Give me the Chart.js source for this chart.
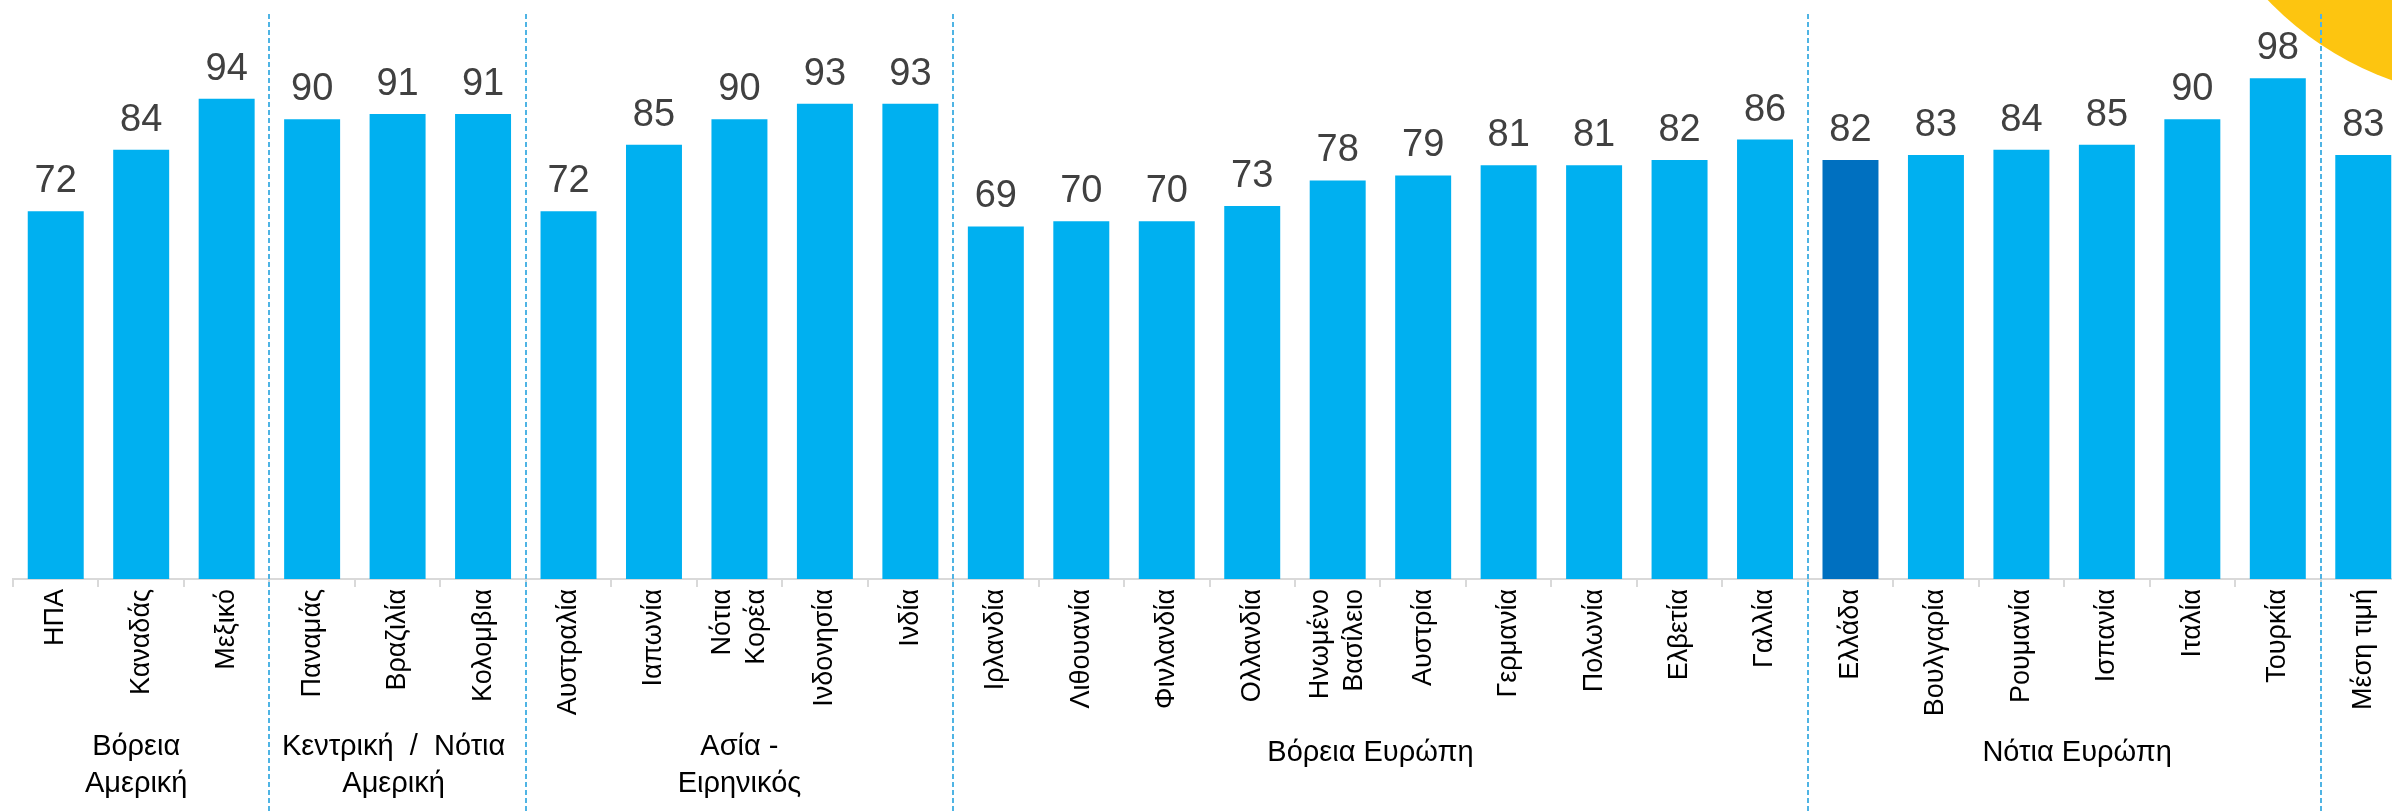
<!DOCTYPE html>
<html>
<head>
<meta charset="utf-8">
<script src="https://cdn.jsdelivr.net/npm/chart.js@4"></script>
<style>
  html, body { margin: 0; padding: 0; background: #fff; overflow: hidden; }
  #wrap { width: 2420px; height: 811px; }
</style>
</head>
<body>
<div id="wrap"><canvas id="chart" width="2420" height="811"></canvas></div>
<script>
// data
const countries = [
  'ΗΠΑ', 'Καναδάς', 'Μεξικό',
  'Παναμάς', 'Βραζιλία', 'Κολομβια',
  'Αυστραλία', 'Ιαπωνία', ['Νότια', 'Κορέα'], 'Ινδονησία', 'Ινδία',
  'Ιρλανδία', 'Λιθουανία', 'Φινλανδία', 'Ολλανδία', ['Ηνωμένο', 'Βασίλειο'],
  'Αυστρία', 'Γερμανία', 'Πολωνία', 'Ελβετία', 'Γαλλία',
  'Ελλάδα', 'Βουλγαρία', 'Ρουμανία', 'Ισπανία', 'Ιταλία', 'Τουρκία',
  'Μέση τιμή'
];
const scores = [
  72, 84, 94,
  90, 91, 91,
  72, 85, 90, 93, 93,
  69, 70, 70, 73, 78, 79, 81, 81, 82, 86,
  82, 83, 84, 85, 90, 98,
  83
];
const groupNames = [
  ['Βόρεια', 'Αμερική'],
  ['Κεντρική  /  Νότια', 'Αμερική'],
  ['Ασία -', 'Ειρηνικός'],
  ['Βόρεια Ευρώπη'],
  ['Νότια Ευρώπη'],
  []
];
const groupSizes = [3, 3, 5, 10, 6, 1];
const highlighted = 'Ελλάδα';

const FONT = "'Liberation Sans', Arial, sans-serif";
const BLUE = '#00B0F0';
const DARK_BLUE = '#0070C0';
// small horizontal nudges of the group titles, as placed on the slide
const titleNudge = [-5, -4, 0, -10, 13, 0];

const barColors = countries.map(c => c === highlighted ? DARK_BLUE : BLUE);

// yellow disc in the top right corner, behind everything
const decoPlugin = {
  id: 'deco',
  beforeDraw(chart) {
    const ctx = chart.ctx;
    ctx.save();
    ctx.fillStyle = '#FDC510';
    ctx.beginPath();
    ctx.arc(2500, -223, 322, 0, Math.PI * 2);
    ctx.fill();
    ctx.restore();
  }
};

const valueLabels = {
  id: 'valueLabels',
  afterDatasetsDraw(chart) {
    const ctx = chart.ctx;
    const meta = chart.getDatasetMeta(0);
    ctx.save();
    ctx.font = '38px ' + FONT;
    ctx.fillStyle = '#404040';
    ctx.textAlign = 'center';
    ctx.textBaseline = 'alphabetic';
    meta.data.forEach((bar, i) => {
      ctx.fillText(scores[i], bar.x, bar.y - 19);
    });
    ctx.restore();
  }
};

// rotated country names, multi-line ones centred as a block on the tick
const tickLabels = {
  id: 'tickLabels',
  afterDraw(chart) {
    const ctx = chart.ctx;
    const x = chart.scales.x;
    const lh = 34;
    const top = chart.chartArea.bottom + 10;
    ctx.save();
    ctx.font = '27px ' + FONT;
    ctx.fillStyle = '#000';
    ctx.textAlign = 'right';
    ctx.textBaseline = 'middle';
    countries.forEach((c, i) => {
      const lines = Array.isArray(c) ? c : [c];
      const px = x.getPixelForValue(i);
      lines.forEach((t, j) => {
        const cx = px - (lines.length * lh) / 2 + lh * (j + 0.5);
        ctx.save();
        ctx.translate(cx, top);
        ctx.rotate(-Math.PI / 2);
        ctx.fillText(t, 0, 0);
        ctx.restore();
      });
    });
    ctx.restore();
  }
};

const groupsPlugin = {
  id: 'groups',
  afterDraw(chart) {
    const ctx = chart.ctx;
    const x = chart.scales.x;
    ctx.save();
    ctx.strokeStyle = '#4FB4E4';
    ctx.lineWidth = 2;
    ctx.setLineDash([5, 3]);
    let start = 0;
    groupSizes.forEach((n, g) => {
      const end = start + n;
      // dashed separator after the group
      if (end < countries.length) {
        const px = Math.round((x.getPixelForValue(end - 1) + x.getPixelForValue(end)) / 2);
        ctx.beginPath();
        ctx.moveTo(px, 14);
        ctx.lineTo(px, chart.height);
        ctx.stroke();
      }
      // group title
      const lines = groupNames[g];
      const cx = (x.getPixelForValue(start) + x.getPixelForValue(end - 1)) / 2 + titleNudge[g];
      ctx.font = '29px ' + FONT;
      ctx.fillStyle = '#000';
      ctx.textAlign = 'center';
      ctx.textBaseline = 'alphabetic';
      const y0 = lines.length > 1 ? 755 : 761;
      lines.forEach((t, k) => ctx.fillText(t, cx, y0 + k * 37));
      start = end;
    });
    ctx.restore();
  }
};

new Chart(document.getElementById('chart'), {
  type: 'bar',
  data: {
    labels: countries,
    datasets: [{
      data: scores,
      backgroundColor: barColors,
      categoryPercentage: 1,
      barPercentage: 0.655
    }]
  },
  options: {
    responsive: false,
    animation: false,
    devicePixelRatio: 1,
    layout: { padding: { left: 13, right: 14, top: 17, bottom: 0 } },
    plugins: {
      legend: { display: false },
      tooltip: { enabled: false }
    },
    scales: {
      y: { display: false, min: 0, max: 110 },
      x: {
        afterFit(scale) { scale.height = 232; },
        border: { color: '#D9D9D9', width: 2 },
        grid: {
          offset: true,
          drawOnChartArea: false,
          drawTicks: true,
          tickLength: 8,
          color: '#D9D9D9',
          lineWidth: 2
        },
        ticks: { display: false, autoSkip: false }
      }
    }
  },
  plugins: [decoPlugin, valueLabels, tickLabels, groupsPlugin]
});
</script>
</body>
</html>
